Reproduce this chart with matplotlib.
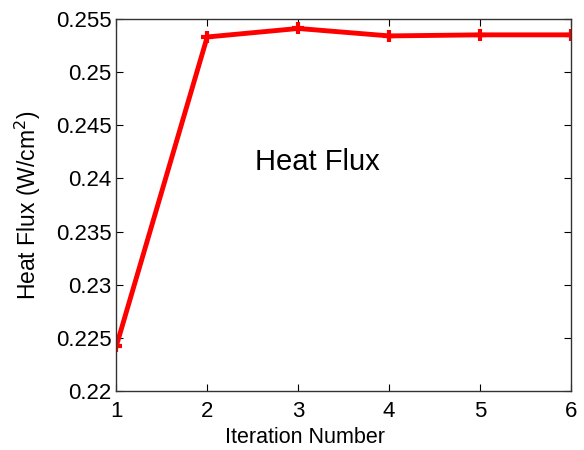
import matplotlib
matplotlib.use("Agg")
import matplotlib.pyplot as plt

# data
iterations = [1, 2, 3, 4, 5, 6]
heat_flux = [0.2242, 0.2533, 0.2541, 0.2534, 0.2535, 0.2535]
yticks = [0.22, 0.225, 0.23, 0.235, 0.24, 0.245, 0.25, 0.255]
ytick_labels = ["0.22", "0.225", "0.23", "0.235", "0.24", "0.245", "0.25", "0.255"]

plt.rcParams['font.family'] = ['Liberation Sans', 'DejaVu Sans']

fig = plt.figure(figsize=(5.84, 4.5), dpi=100)
ax = fig.add_axes([0.199, 0.131, 0.779, 0.827])

ax.plot(iterations, heat_flux, color='#ff0000', linewidth=3.5, marker='+',
        markersize=8, markeredgewidth=3)

ax.set_xlim(1, 6)
ax.set_ylim(0.22, 0.255)
ax.set_xticks(iterations)
ax.set_yticks(yticks)
ax.set_yticklabels(ytick_labels)
ax.tick_params(direction='in', top=True, right=True, labelsize=16, length=5, width=0.8)
ax.tick_params(axis='x', pad=7)
for s in ax.spines.values():
    s.set_linewidth(1.0)
    s.set_color('#333333')

ax.set_xlabel("Iteration Number", fontsize=15.5)
ax.xaxis.set_label_coords(0.414, -0.097)
ax.set_ylabel("Heat Flux (W/cm$^2$)", fontsize=16.5)
ax.yaxis.set_label_coords(-0.16, 0.5)
ax.text(3.21, 0.2415, "Heat Flux", fontsize=21, ha='center', va='center')

fig.savefig("out.png", dpi=100)
